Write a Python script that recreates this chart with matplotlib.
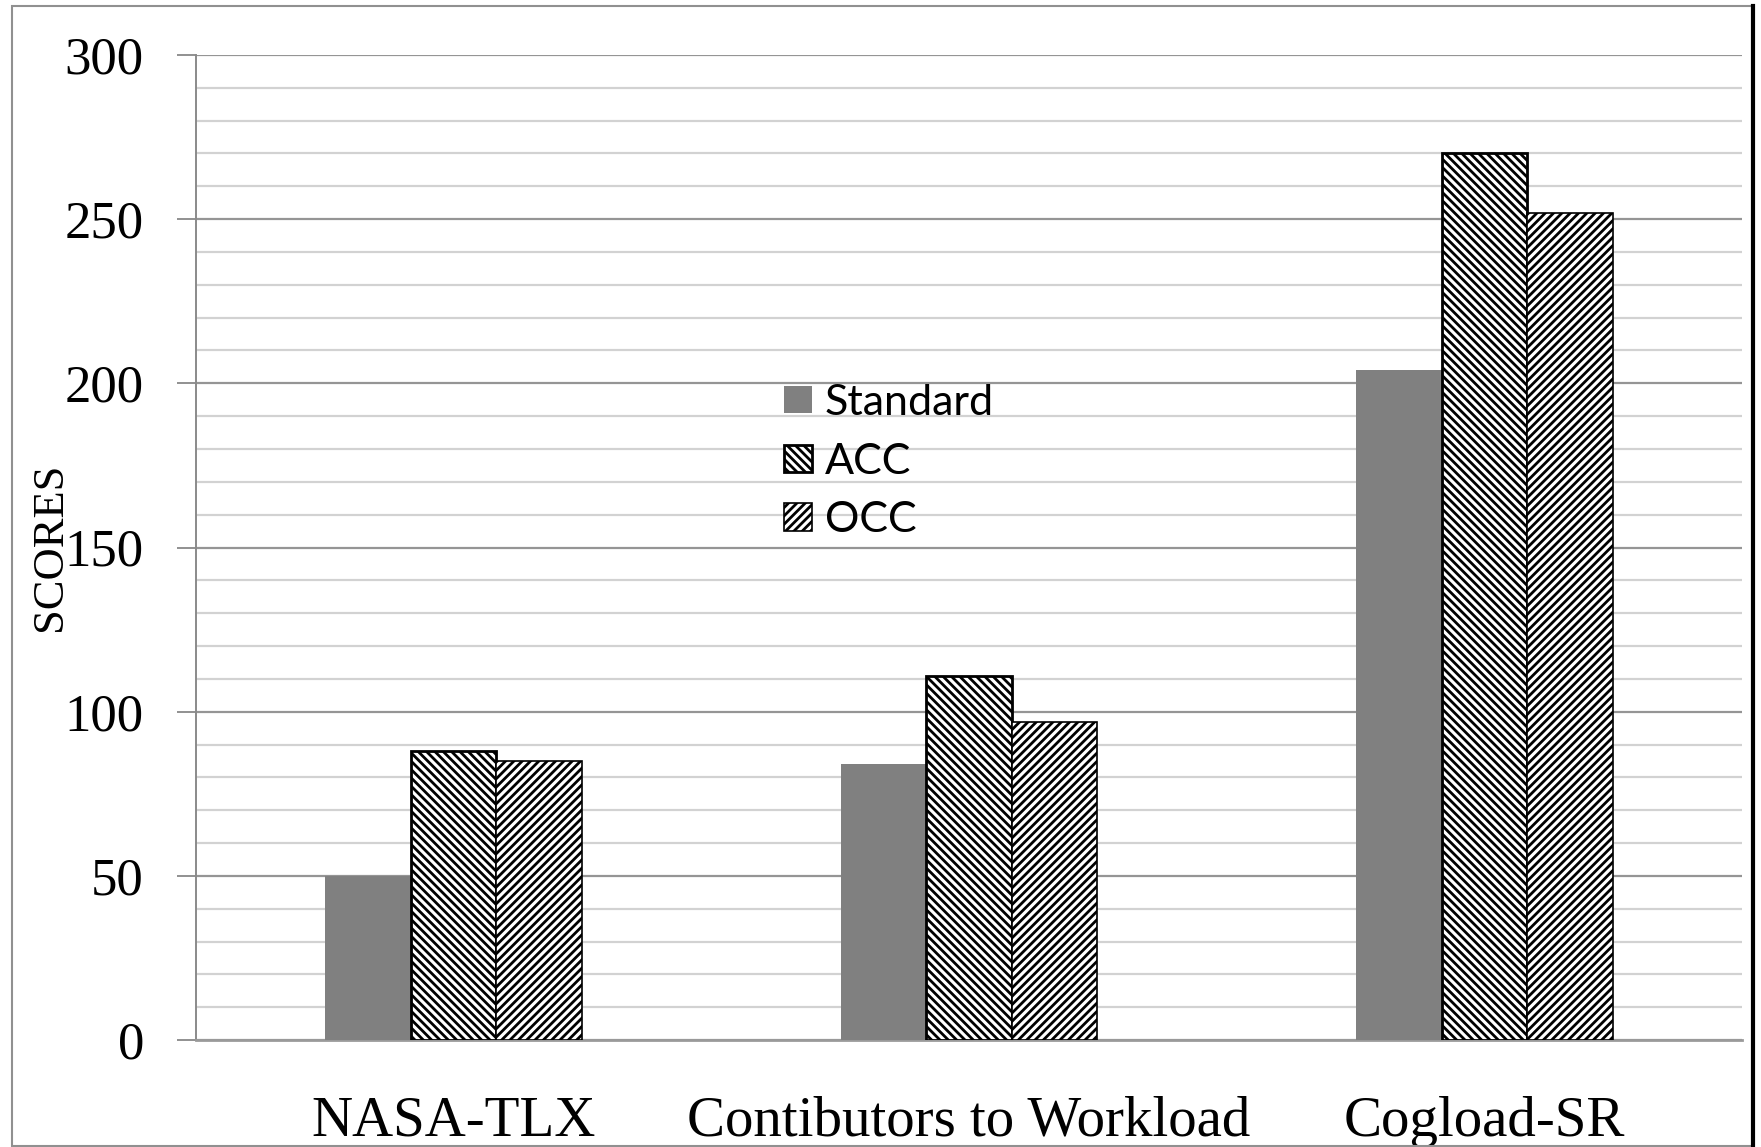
#import packages
import matplotlib.pyplot as plt
import numpy as np
from matplotlib.patches import Rectangle
from matplotlib.lines import Line2D
from matplotlib.ticker import MultipleLocator

#data
categories = ["NASA-TLX", "Contibutors to Workload", "Cogload-SR"]
standard = [50, 84, 204]
acc = [88, 111, 270]
occ = [85, 97, 252]
yticks = [0, 50, 100, 150, 200, 250, 300]

W, H = 1761, 1147
plt.rcParams['hatch.linewidth'] = 2.0
plt.rcParams['font.family'] = ['Liberation Serif', 'DejaVu Serif']

fig = plt.figure(figsize=(W/100, H/100), dpi=100)
ax = fig.add_axes([196/W, 1-1040/H, (1742-196)/W, (1040-55)/H])

#bars
x = np.arange(len(categories))
w = 0.166
ax.bar(x - w, standard, w, color="#808080", linewidth=0, label="Standard", zorder=3)
ax.bar(x, acc, w, color="white", edgecolor="black", hatch="\\" * 4,
       linewidth=2.0, label="ACC", zorder=3)
ax.bar(x + w, occ, w, color="white", edgecolor="black", hatch="/" * 4,
       linewidth=1.2, label="OCC", zorder=3)

#axes and grid
ax.set_xlim(-0.5, 2.5)
ax.set_ylim(0, 300)
ax.set_yticks(yticks)
ax.yaxis.set_minor_locator(MultipleLocator(10))
ax.set_xticks(x)
ax.set_xticklabels(categories, fontsize=41)
ax.tick_params(axis='x', length=0, pad=40)
ax.tick_params(axis='y', which='major', length=13.5, width=1.4, color="#909090",
               pad=24, labelsize=38)
ax.tick_params(axis='y', which='minor', length=0)
ax.grid(axis='y', which='major', color="#959595", linewidth=1.6, zorder=0)
ax.grid(axis='y', which='minor', color="#d2d2d2", linewidth=1.6, zorder=0)
ax.set_axisbelow(True)
for s in ["top", "right"]:
    ax.spines[s].set_visible(False)
ax.spines["left"].set_color("#8a8a8a")
ax.spines["left"].set_linewidth(1.4)
ax.spines["bottom"].set_color("#9a9a9a")
ax.spines["bottom"].set_linewidth(2.0)

fig.text(50/W, 1-547/H, "SCORES", rotation=90, ha='center', va='center', fontsize=32)

ax.legend(loc='upper left', bbox_to_anchor=(784/W, 1-384/H), bbox_transform=fig.transFigure,
          frameon=False, prop={'family': 'Lato', 'size': 31}, handlelength=0.65,
          handleheight=0.6, handletextpad=0.3, labelspacing=0.48, borderpad=0,
          borderaxespad=0)

#outer frame of the picture
fig.patches.append(Rectangle((12/W, 1-1146/H), (1753-12)/W, (1146-6)/H, transform=fig.transFigure,
                             fill=False, edgecolor="#909090", linewidth=1.5))
fig.lines.append(Line2D([1753/W, 1753/W], [1-1146/H, 1-6/H], transform=fig.transFigure,
                        color="black", linewidth=3))

fig.savefig("out.png", dpi=100)
